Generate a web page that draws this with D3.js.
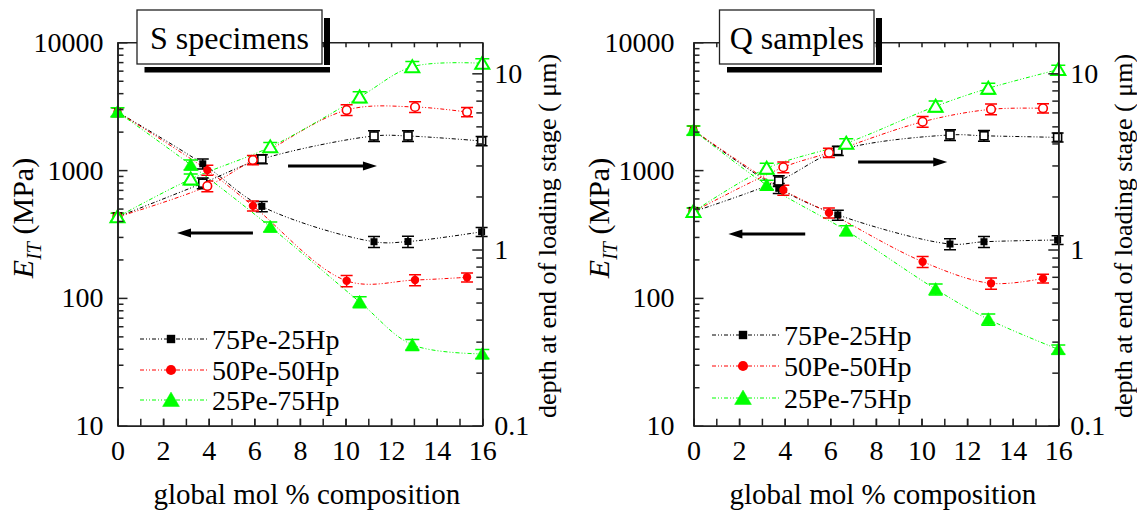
<!DOCTYPE html>
<html><head><meta charset="utf-8">
<script src="https://cdn.jsdelivr.net/npm/d3@7"></script>
<style>
body{margin:0;background:#fff}
svg{display:block}
svg text{font-family:"Liberation Serif","Tinos","Times New Roman",Times,"DejaVu Serif",serif;fill:#000}
</style>
</head><body>
<svg id="chart" width="1137" height="517"></svg>
<script>
// ---------- data ----------
const seriesNames = ["75Pe-25Hp", "50Pe-50Hp", "25Pe-75Hp"];
const seriesColors = ["#000000", "#ff0000", "#00ff00"];
const seriesShapes = ["square", "circle", "triangle"];

// global mol % composition of each sample
const composition75 = [0, 3.74, 6.33, 11.25, 12.74, 15.97];
const composition50 = [0, 3.94, 5.94, 10.05, 13.05, 15.33];
const composition25 = [0, 3.21, 6.70, 10.62, 12.93, 16.0];

// S specimens: indentation modulus E_IT (MPa)
const S_modulus75 = [2850, 1120, 520, 275, 276, 329];
const S_modulus50 = [2850, 1000, 525, 136, 138, 145];
const S_modulus25 = [2850, 1100, 360, 93, 43, 36.5];
// S specimens: depth at end of loading stage (um)
const S_depth75 = [1.53, 2.38, 3.26, 4.41, 4.41, 4.13];
const S_depth50 = [1.53, 2.29, 3.22, 6.19, 6.44, 6.03];
const S_depth25 = [1.53, 2.51, 3.82, 7.34, 10.9, 11.4];

// Q samples
const Q_modulus75 = [2050, 720, 446, 264, 275, 284];
const Q_modulus50 = [2050, 699, 464, 192, 130, 142];
const Q_modulus25 = [2050, 764, 336, 117, 68, 39.6];
const Q_depth75 = [1.64, 2.45, 3.64, 4.47, 4.42, 4.33];
const Q_depth50 = [1.64, 2.93, 3.54, 5.31, 6.25, 6.33];
const Q_depth25 = [1.64, 2.89, 4.01, 6.50, 8.22, 10.5];

// relative error bars (estimated)
const modulusRelErr = [0.08, 0.09, 0.09, 0.10, 0.10, 0.08];
const depthRelErr = [0.05, 0.07, 0.06, 0.07, 0.07, 0.06];

// axes
const xTickLabels = [0, 2, 4, 6, 8, 10, 12, 14, 16];
const modulusTicks = [10, 100, 1000, 10000];
const depthTicks = [0.1, 1, 10];
const xDomain = [0, 16];
const modulusDomain = [10, 10000];
const depthDomain = [0.1, 15];

const panels = [
  { title: "S specimens", ox: 0, gap: 14,
    modulus: [S_modulus75, S_modulus50, S_modulus25],
    depth: [S_depth75, S_depth50, S_depth25],
    arrowRight: [7.48, 11.38, 1077], arrowLeft: [5.94, 2.61, 322],
    legendY: [339, 370, 400], legendX: 140 },
  { title: "Q samples", ox: 576, gap: 19,
    modulus: [Q_modulus75, Q_modulus50, Q_modulus25],
    depth: [Q_depth75, Q_depth50, Q_depth25],
    arrowRight: [7.22, 11.13, 1157], arrowLeft: [4.9, 1.53, 316],
    legendY: [335, 366, 398], legendX: 712 }
];
const compositions = [composition75, composition50, composition25];

// ---------- drawing ----------
const FONT = '"Liberation Serif", Tinos, "Times New Roman", Times, "DejaVu Serif", serif';
const svg = d3.select("#chart");
svg.append("rect").attr("width", 1137).attr("height", 517).attr("fill", "#fff");

const TOP = 42.3, BOTTOM = 425.7;
const DASH = "4,2,1,2,1,2";

function minorLog(domain) {
  const out = [];
  for (let e = Math.floor(Math.log10(domain[0])); e <= Math.ceil(Math.log10(domain[1])); e++) {
    for (let m = 2; m <= 9; m++) {
      const v = m * Math.pow(10, e);
      if (v > domain[0] && v < domain[1]) out.push(v);
    }
  }
  return out;
}

function marker(g, shape, cx, cy, color, filled, scale) {
  const s = scale || 1;
  if (shape === "square") {
    const w = (filled ? 7 : 8) * s;
    g.append("rect").attr("x", cx - w / 2).attr("y", cy - w / 2).attr("width", w).attr("height", w)
      .attr("fill", filled ? color : "#fff").attr("stroke", color).attr("stroke-width", filled ? 0 : 1.6);
  } else if (shape === "circle") {
    g.append("circle").attr("cx", cx).attr("cy", cy).attr("r", (filled ? 4.2 : 4.3) * s)
      .attr("fill", filled ? color : "#fff").attr("stroke", color).attr("stroke-width", filled ? 0 : 1.6);
  } else {
    const w = 14 * s, h = 12 * s;
    g.append("path")
      .attr("d", `M${cx - w / 2},${cy + h * 0.45}L${cx + w / 2},${cy + h * 0.45}L${cx},${cy - h * 0.55}Z`)
      .attr("fill", filled ? color : "#fff").attr("stroke", color)
      .attr("stroke-width", filled ? 0.5 : 2).attr("stroke-linejoin", "miter");
  }
}

panels.forEach(p => {
  const x = d3.scaleLinear().domain(xDomain).range([117.5 + p.ox, 482.3 + p.ox]);
  const yM = d3.scaleLog().domain(modulusDomain).range([BOTTOM, TOP]);
  const yD = d3.scaleLog().domain(depthDomain).range([BOTTOM, TOP]);
  const g = svg.append("g");

  const curves = g.append("g");
  const errs = g.append("g");
  const marks = g.append("g");
  [0, 1, 2].forEach(i => {
    const col = seriesColors[i];
    const comp = compositions[i];
    const mData = comp.map((c, j) => ({ c, v: p.modulus[i][j], e: modulusRelErr[j] }));
    const dData = comp.map((c, j) => ({ c, v: p.depth[i][j], e: depthRelErr[j] }));
    const lineM = d3.line().x(d => x(d.c)).y(d => yM(d.v)).curve(d3.curveCatmullRom.alpha(0.5));
    const lineD = d3.line().x(d => x(d.c)).y(d => yD(d.v)).curve(d3.curveCatmullRom.alpha(0.5));
    curves.append("path").attr("d", lineM(mData)).attr("fill", "none").attr("stroke", col)
      .attr("stroke-width", 1).attr("stroke-dasharray", DASH);
    curves.append("path").attr("d", lineD(dData)).attr("fill", "none").attr("stroke", col)
      .attr("stroke-width", 1).attr("stroke-dasharray", DASH);
    [[mData, yM], [dData, yD]].forEach(([data, ys]) => {
      data.forEach(d => {
        const cx = x(d.c), y1 = ys(d.v * (1 + d.e)), y2 = ys(d.v * (1 - d.e));
        const hw = i === 2 ? 7 : 6;
        errs.append("path")
          .attr("d", `M${cx},${y1}L${cx},${y2}M${cx - hw},${y1}L${cx + hw},${y1}M${cx - hw},${y2}L${cx + hw},${y2}`)
          .attr("stroke", col).attr("stroke-width", 1.5).attr("fill", "none");
      });
    });
    mData.forEach(d => marker(marks, seriesShapes[i], x(d.c), yM(d.v), col, true));
    dData.forEach(d => marker(marks, seriesShapes[i], x(d.c), yD(d.v), col, false));
  });

  // axes
  const ax = g.append("g").attr("class", "axes");
  const axStyle = sel => {
    sel.attr("font-family", FONT);
    sel.selectAll("path.domain").attr("stroke", "#222").attr("stroke-width", 1.6);
    sel.selectAll(".tick line").attr("stroke", "#222").attr("stroke-width", 1.5);
    sel.selectAll(".tick text").attr("font-family", FONT).attr("font-size", 28).attr("fill", "#000");
  };
  ax.append("g").attr("transform", `translate(${x(0)},0)`)
    .call(d3.axisLeft(yM).tickValues(minorLog(modulusDomain)).tickSizeInner(-6).tickSizeOuter(0).tickFormat(""))
    .call(axStyle);
  ax.append("g").attr("transform", `translate(${x(0)},0)`)
    .call(d3.axisLeft(yM).tickValues(modulusTicks).tickSizeInner(-10).tickSizeOuter(0).tickPadding(p.gap).tickFormat(d3.format("d")))
    .call(axStyle);
  ax.append("g").attr("transform", `translate(${x(16)},0)`)
    .call(d3.axisRight(yD).tickValues(minorLog(depthDomain)).tickSizeInner(-6).tickSizeOuter(0).tickFormat(""))
    .call(axStyle);
  ax.append("g").attr("transform", `translate(${x(16)},0)`)
    .call(d3.axisRight(yD).tickValues(depthTicks).tickSizeInner(-10).tickSizeOuter(0).tickPadding(12).tickFormat(d => String(d)))
    .call(axStyle);
  ax.append("g").attr("transform", `translate(0,${BOTTOM})`)
    .call(d3.axisBottom(x).tickValues(d3.range(0, 17, 1)).tickSizeInner(-7).tickSizeOuter(0).tickFormat(""))
    .call(axStyle);
  ax.append("g").attr("transform", `translate(0,${BOTTOM})`)
    .call(d3.axisBottom(x).tickValues(xTickLabels).tickSizeInner(-7).tickSizeOuter(0).tickPadding(14).tickFormat(d3.format("d")))
    .call(axStyle);
  ax.append("g").attr("transform", `translate(0,${TOP})`)
    .call(d3.axisTop(x).tickValues(d3.range(0, 17, 1)).tickSizeInner(-5).tickSizeOuter(0).tickFormat(""))
    .call(axStyle);

  // axis titles
  g.append("text").attr("x", (x(0) + x(16)) / 2 + 7).attr("y", 504).attr("text-anchor", "middle")
    .attr("font-family", FONT).attr("font-size", 29).text("global mol % composition");
  const yl = g.append("text").attr("transform", `translate(${33 + p.ox},${218}) rotate(-90)`)
    .attr("text-anchor", "middle").attr("font-family", FONT).attr("font-size", 30);
  yl.append("tspan").attr("font-style", "italic").text("E");
  yl.append("tspan").attr("font-style", "italic").attr("font-size", 20).attr("dy", 8).text("IT");
  yl.append("tspan").attr("dy", -8).text(" (MPa)");
  g.append("text").attr("transform", `translate(${556 + p.ox},${236}) rotate(-90)`)
    .attr("text-anchor", "middle").attr("font-family", FONT).attr("font-size", 26)
    .text("depth at end of loading stage ( \u03bcm)");

  // arrows
  const arrow = (x1, x2, v) => {
    const yy = yM(v), X1 = x(x1), X2 = x(x2), dir = Math.sign(X2 - X1);
    g.append("line").attr("x1", X1).attr("x2", X2 - dir * 10).attr("y1", yy).attr("y2", yy)
      .attr("stroke", "#000").attr("stroke-width", 3);
    g.append("path").attr("d", `M${X2},${yy}L${X2 - dir * 14},${yy - 4.5}L${X2 - dir * 14},${yy + 4.5}Z`).attr("fill", "#000");
  };
  arrow(p.arrowRight[0], p.arrowRight[1], p.arrowRight[2]);
  arrow(p.arrowLeft[0], p.arrowLeft[1], p.arrowLeft[2]);

  // legend
  const lg = g.append("g");
  [0, 1, 2].forEach(i => {
    const ly = p.legendY[i], lx = p.legendX;
    lg.append("line").attr("x1", lx).attr("x2", lx + 67).attr("y1", ly).attr("y2", ly)
      .attr("stroke", seriesColors[i]).attr("stroke-width", 1).attr("stroke-dasharray", DASH);
    marker(lg, seriesShapes[i], lx + 31, ly, seriesColors[i], true, 1.2);
    lg.append("text").attr("x", lx + 72).attr("y", ly + 10).attr("font-family", FONT)
      .attr("font-size", 28).text(seriesNames[i]);
  });

  // title box with shadow bars
  const bx = p.ox === 0 ? 137 : 719.5, bw = p.ox === 0 ? 185 : 154.5;
  g.append("rect").attr("x", bx + bw + 2).attr("y", 18).attr("width", 6).attr("height", 47).attr("fill", "#000");
  g.append("rect").attr("x", bx + 7.5).attr("y", 67).attr("width", bw + 0.5).attr("height", 5.5).attr("fill", "#000");
  g.append("rect").attr("x", bx).attr("y", 10).attr("width", bw).attr("height", 54)
    .attr("fill", "#fff").attr("stroke", "#222").attr("stroke-width", 1.3);
  g.append("text").attr("x", bx + bw / 2).attr("y", 49).attr("text-anchor", "middle")
    .attr("font-family", FONT).attr("font-size", 32).text(p.title);
});
</script>
</body></html>
